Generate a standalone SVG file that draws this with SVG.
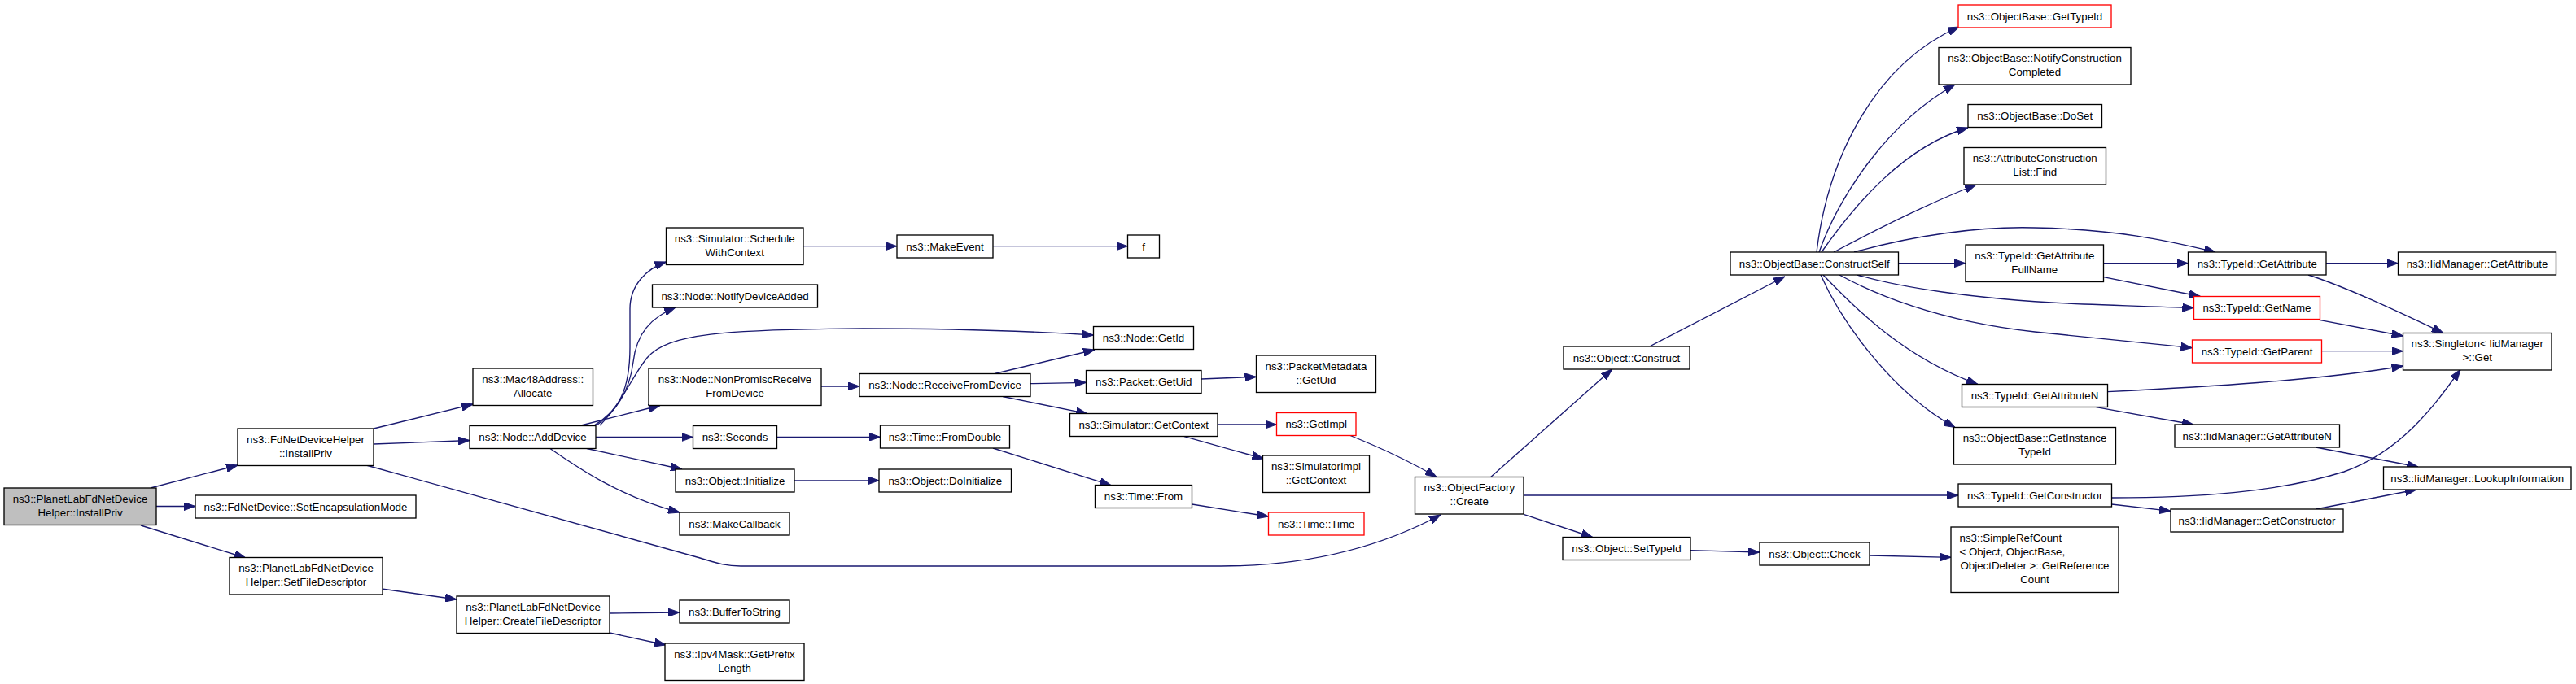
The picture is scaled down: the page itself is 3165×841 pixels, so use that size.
<svg xmlns="http://www.w3.org/2000/svg" width="3165" height="841" viewBox="0 0 3165 841">
<defs>
<style>
.n rect{fill:#fff;stroke:#000;stroke-width:1.33}
.n.red rect{stroke:#ff0000}
.n.root rect{fill:#bfbfbf}
text{font-family:"Liberation Sans",Arial,Helvetica,sans-serif;font-size:13.3px;fill:#000;text-anchor:middle}
text.l{text-anchor:start}
.e path{fill:none;stroke:#191970;stroke-width:1.33;marker-end:url(#a)}
</style>
<marker id="a" markerWidth="14" markerHeight="10" refX="14" refY="5" orient="auto" markerUnits="userSpaceOnUse"><path d="M0,0 L14,5 L0,10 z" fill="#191970" stroke="#191970" stroke-width="1"/></marker>
</defs>
<rect x="0" y="0" width="3165" height="841" fill="#fff"/>
<g id="edges" class="e">
<path d="M185,600 L292,572"/>
<path d="M192,622.5 L240,622.5"/>
<path d="M173,646 L302,686"/>
<path d="M459,527 L581,497"/>
<path d="M459,546 L577,541.5"/>
<path d="M450,572 L860,686 C880,692 890,696 910,696 L1500,696 C1600,696 1690,676 1770,633"/>
<path d="M730,523 C760,505 774,480 774,427 L774,380 C774,350 795,330 818.5,322"/>
<path d="M733,523 C765,500 775,470 778,445 C782,410 800,390 830,378"/>
<path d="M737,523 C765,495 775,465 795,440 C820,410 890,405 1060,404 C1200,404 1280,408 1343.5,412"/>
<path d="M712,523.5 L811,498.5"/>
<path d="M732,537.5 L851.5,537.5"/>
<path d="M721,551.5 L838,577"/>
<path d="M676,551.5 C710,575 760,610 835,630"/>
<path d="M469,724 L561,737"/>
<path d="M749,754 L835,753"/>
<path d="M749,778 L818,793"/>
<path d="M987,302.7 L1102,302.7"/>
<path d="M1009,475 L1056,475"/>
<path d="M954.5,537.3 L1081.5,537.3"/>
<path d="M976,590.8 L1080,590.8"/>
<path d="M1220,302.7 L1385.5,302.7"/>
<path d="M1222,459.5 L1345,430"/>
<path d="M1266,471.7 L1334.5,470.3"/>
<path d="M1232,487.5 L1336,508.7"/>
<path d="M1220,551 L1365,596.7"/>
<path d="M1476,466 L1543.5,463.3"/>
<path d="M1496,522 L1568.5,522"/>
<path d="M1455,536.7 L1552.5,564"/>
<path d="M1464.5,620 L1558.5,635"/>
<path d="M1659,535.5 C1690,548 1730,566 1765,586.5"/>
<path d="M1831.7,586.5 L1980.7,454"/>
<path d="M1872,609 L2406,609"/>
<path d="M1872,632.3 L1956.7,660.5"/>
<path d="M2026.7,426 L2193,340"/>
<path d="M2077,676.7 L2162,679"/>
<path d="M2297,683 L2397,685.3"/>
<path d="M2232,310 C2245,200 2300,80 2407,33"/>
<path d="M2235,310 C2260,240 2320,150 2402,104"/>
<path d="M2238,310 C2280,250 2340,180 2418,157"/>
<path d="M2253,310 C2300,285 2370,250 2428,227"/>
<path d="M2278,310 C2350,290 2430,278 2500,280 C2600,282 2660,295 2722,310"/>
<path d="M2332.5,323.7 L2415,323.7"/>
<path d="M2282,338 C2330,352 2420,368 2560,374 C2620,376 2660,378 2695.5,378.3"/>
<path d="M2260,338 C2300,360 2380,395 2500,408 C2580,416 2640,422 2693.5,427.7"/>
<path d="M2240,338 C2280,380 2340,440 2430,472.5"/>
<path d="M2237,338 C2260,390 2320,480 2402,525.5"/>
<path d="M2584.5,323.7 L2688.5,323.7"/>
<path d="M2584.5,340.7 L2703.5,364.5"/>
<path d="M2858,323.7 L2946.5,323.7"/>
<path d="M2836,338 C2880,352 2940,380 3002,409.5"/>
<path d="M2845.5,392.7 L2952.5,413"/>
<path d="M2852.5,431.7 L2952.5,431.7"/>
<path d="M2589.5,481.7 C2700,476 2850,468 2952.5,450"/>
<path d="M2575.5,500.7 L2695,522"/>
<path d="M2845.5,550 L2971,574"/>
<path d="M2594.5,612 C2700,612 2800,605 2880,580 C2950,555 2990,500 3023,454.5"/>
<path d="M2594.5,620 L2667,628.3"/>
<path d="M2845.5,626 L2969,602"/>
</g>
<g id="n0" class="n root"><rect x="5" y="600" width="187" height="45.5"/><text x="98.5" y="617.5">ns3::PlanetLabFdNetDevice</text><text x="98.5" y="634.7">Helper::InstallPriv</text></g>
<g id="n1" class="n"><rect x="292" y="527" width="167" height="45.5"/><text x="375.5" y="544.5">ns3::FdNetDeviceHelper</text><text x="375.5" y="561.7">::InstallPriv</text></g>
<g id="n2" class="n"><rect x="240" y="609" width="271" height="28"/><text x="375.5" y="627.7">ns3::FdNetDevice::SetEncapsulationMode</text></g>
<g id="n3" class="n"><rect x="282" y="685.5" width="188" height="45.5"/><text x="376" y="703">ns3::PlanetLabFdNetDevice</text><text x="376" y="720.1">Helper::SetFileDescriptor</text></g>
<g id="n4" class="n"><rect x="581" y="453" width="147.5" height="45.5"/><text x="654.75" y="470.5">ns3::Mac48Address::</text><text x="654.75" y="487.6">Allocate</text></g>
<g id="n5" class="n"><rect x="577" y="523.5" width="155" height="28"/><text x="654.5" y="542.2">ns3::Node::AddDevice</text></g>
<g id="n6" class="n"><rect x="561" y="733" width="188" height="45.5"/><text x="655" y="750.5">ns3::PlanetLabFdNetDevice</text><text x="655" y="767.6">Helper::CreateFileDescriptor</text></g>
<g id="n7" class="n"><rect x="818.5" y="280" width="168.5" height="45.5"/><text x="902.75" y="297.5">ns3::Simulator::Schedule</text><text x="902.75" y="314.6">WithContext</text></g>
<g id="n8" class="n"><rect x="801.5" y="350" width="203" height="28"/><text x="903" y="368.7">ns3::Node::NotifyDeviceAdded</text></g>
<g id="n9" class="n"><rect x="797" y="453" width="212" height="45.5"/><text x="903" y="470.5">ns3::Node::NonPromiscReceive</text><text x="903" y="487.6">FromDevice</text></g>
<g id="n10" class="n"><rect x="851.5" y="523.5" width="103" height="28"/><text x="903" y="542.2">ns3::Seconds</text></g>
<g id="n11" class="n"><rect x="830" y="577" width="146" height="28"/><text x="903" y="595.7">ns3::Object::Initialize</text></g>
<g id="n12" class="n"><rect x="835" y="630" width="135" height="28"/><text x="902.5" y="648.7">ns3::MakeCallback</text></g>
<g id="n13" class="n"><rect x="835" y="738" width="135" height="28"/><text x="902.5" y="756.7">ns3::BufferToString</text></g>
<g id="n14" class="n"><rect x="817" y="791" width="171" height="45.5"/><text x="902.5" y="808.5">ns3::Ipv4Mask::GetPrefix</text><text x="902.5" y="825.6">Length</text></g>
<g id="n15" class="n"><rect x="1102" y="289" width="118" height="28"/><text x="1161" y="307.7">ns3::MakeEvent</text></g>
<g id="n16" class="n"><rect x="1056" y="459.5" width="210" height="28"/><text x="1161" y="478.2">ns3::Node::ReceiveFromDevice</text></g>
<g id="n17" class="n"><rect x="1081.5" y="523" width="159" height="28"/><text x="1161" y="541.7">ns3::Time::FromDouble</text></g>
<g id="n18" class="n"><rect x="1080" y="577" width="162.5" height="28"/><text x="1161.25" y="595.7">ns3::Object::DoInitialize</text></g>
<g id="n19" class="n"><rect x="1385.5" y="289" width="39" height="28"/><text x="1405" y="307.7">f</text></g>
<g id="n20" class="n"><rect x="1343.5" y="401.5" width="123" height="28"/><text x="1405" y="420.2">ns3::Node::GetId</text></g>
<g id="n21" class="n"><rect x="1334.5" y="455.5" width="141.5" height="28"/><text x="1405.25" y="474.2">ns3::Packet::GetUid</text></g>
<g id="n22" class="n"><rect x="1314.5" y="508.5" width="181.5" height="28"/><text x="1405.25" y="527.2">ns3::Simulator::GetContext</text></g>
<g id="n23" class="n"><rect x="1345.5" y="596.5" width="119" height="28"/><text x="1405" y="615.2">ns3::Time::From</text></g>
<g id="n24" class="n"><rect x="1543.5" y="437" width="147" height="45.5"/><text x="1617" y="454.5">ns3::PacketMetadata</text><text x="1617" y="471.6">::GetUid</text></g>
<g id="n25" class="n red"><rect x="1568.5" y="507.5" width="97.5" height="28"/><text x="1617.25" y="526.2">ns3::GetImpl</text></g>
<g id="n26" class="n"><rect x="1551.5" y="560" width="131" height="45.5"/><text x="1617" y="577.5">ns3::SimulatorImpl</text><text x="1617" y="594.6">::GetContext</text></g>
<g id="n27" class="n red"><rect x="1558.5" y="630" width="117.5" height="28"/><text x="1617.25" y="648.7">ns3::Time::Time</text></g>
<g id="n28" class="n"><rect x="1738.5" y="586.5" width="133.5" height="45.5"/><text x="1805.25" y="604">ns3::ObjectFactory</text><text x="1805.25" y="621.1">::Create</text></g>
<g id="n29" class="n"><rect x="1921" y="426" width="155" height="28"/><text x="1998.5" y="444.7">ns3::Object::Construct</text></g>
<g id="n30" class="n"><rect x="1920" y="660.5" width="157" height="28"/><text x="1998.5" y="679.2">ns3::Object::SetTypeId</text></g>
<g id="n31" class="n"><rect x="2126" y="310" width="206.5" height="28"/><text x="2229.25" y="328.7">ns3::ObjectBase::ConstructSelf</text></g>
<g id="n32" class="n"><rect x="2162" y="667" width="135" height="28"/><text x="2229.5" y="685.7">ns3::Object::Check</text></g>
<g id="n33" class="n red"><rect x="2406" y="6" width="188" height="28"/><text x="2500" y="24.7">ns3::ObjectBase::GetTypeId</text></g>
<g id="n34" class="n"><rect x="2382" y="58.5" width="236" height="45.5"/><text x="2500" y="76">ns3::ObjectBase::NotifyConstruction</text><text x="2500" y="93.1">Completed</text></g>
<g id="n35" class="n"><rect x="2418" y="128.5" width="164.5" height="28"/><text x="2500.25" y="147.2">ns3::ObjectBase::DoSet</text></g>
<g id="n36" class="n"><rect x="2413" y="181.5" width="174.5" height="45.5"/><text x="2500.25" y="199">ns3::AttributeConstruction</text><text x="2500.25" y="216.1">List::Find</text></g>
<g id="n37" class="n"><rect x="2415" y="301" width="169.5" height="45.5"/><text x="2499.75" y="318.5">ns3::TypeId::GetAttribute</text><text x="2499.75" y="335.6">FullName</text></g>
<g id="n38" class="n"><rect x="2410.5" y="472.5" width="179" height="28"/><text x="2500" y="491.2">ns3::TypeId::GetAttributeN</text></g>
<g id="n39" class="n"><rect x="2400.5" y="525.5" width="199" height="45.5"/><text x="2500" y="543">ns3::ObjectBase::GetInstance</text><text x="2500" y="560.1">TypeId</text></g>
<g id="n40" class="n"><rect x="2406" y="595" width="188.5" height="28"/><text x="2500.25" y="613.7">ns3::TypeId::GetConstructor</text></g>
<g id="n41" class="n"><rect x="2397" y="648" width="206" height="80.5"/><text class="l" x="2407.5" y="665.7">ns3::SimpleRefCount</text><text class="l" x="2407.5" y="682.9">&lt; Object, ObjectBase,</text><text x="2500" y="700.1">ObjectDeleter &gt;::GetReference</text><text x="2500" y="717.3">Count</text></g>
<g id="n42" class="n"><rect x="2688.5" y="310" width="169.5" height="28"/><text x="2773.25" y="328.7">ns3::TypeId::GetAttribute</text></g>
<g id="n43" class="n red"><rect x="2695.5" y="364.5" width="155" height="28"/><text x="2773" y="383.2">ns3::TypeId::GetName</text></g>
<g id="n44" class="n red"><rect x="2693.5" y="418" width="159" height="28"/><text x="2773" y="436.7">ns3::TypeId::GetParent</text></g>
<g id="n45" class="n"><rect x="2672" y="522" width="202.5" height="28"/><text x="2773.25" y="540.7">ns3::IidManager::GetAttributeN</text></g>
<g id="n46" class="n"><rect x="2667" y="626" width="212" height="28"/><text x="2773" y="644.7">ns3::IidManager::GetConstructor</text></g>
<g id="n47" class="n"><rect x="2946.5" y="310" width="194" height="28"/><text x="3043.5" y="328.7">ns3::IidManager::GetAttribute</text></g>
<g id="n48" class="n"><rect x="2952.5" y="409.5" width="182.5" height="45.5"/><text x="3043.75" y="427">ns3::Singleton&lt; IidManager</text><text x="3043.75" y="444.1">&gt;::Get</text></g>
<g id="n49" class="n"><rect x="2928.5" y="574" width="230.5" height="28"/><text x="3043.75" y="592.7">ns3::IidManager::LookupInformation</text></g>
</svg>
